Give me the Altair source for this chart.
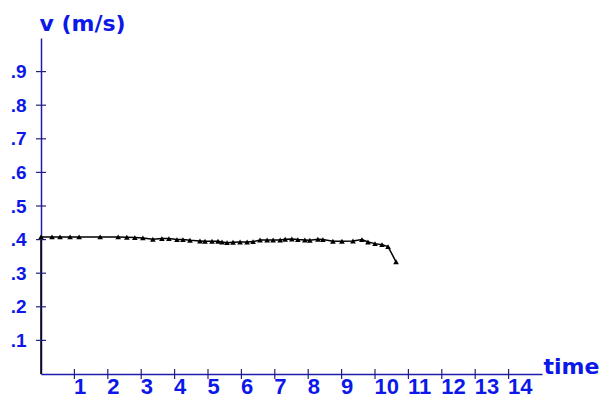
import altair as alt
import pandas as pd

t = [0.0, 0.33, 0.57, 0.87, 1.14, 1.77, 2.31, 2.57, 2.81, 3.05, 3.35, 3.62, 3.83, 4.07,
     4.25, 4.46, 4.76, 4.91, 5.12, 5.30, 5.42, 5.57, 5.75, 5.96, 6.17, 6.35, 6.56, 6.77,
     6.95, 7.16, 7.31, 7.51, 7.69, 7.90, 8.05, 8.29, 8.44, 8.74, 9.01, 9.34, 9.61, 9.79,
     10.0, 10.21, 10.39, 10.63]
v = [0.408, 0.408, 0.408, 0.408, 0.408, 0.408, 0.408, 0.407, 0.406, 0.405, 0.401, 0.403,
     0.403, 0.400, 0.400, 0.398, 0.396, 0.395, 0.395, 0.395, 0.393, 0.391, 0.392, 0.393,
     0.393, 0.394, 0.399, 0.399, 0.399, 0.399, 0.401, 0.402, 0.400, 0.399, 0.398, 0.401,
     0.400, 0.395, 0.395, 0.396, 0.400, 0.393, 0.388, 0.385, 0.379, 0.334]
x_ticks = list(range(1, 15))
y_ticks = [0.1, 0.2, 0.3, 0.4, 0.5, 0.6, 0.7, 0.8, 0.9]

BLUE = "#0c18e8"
AXIS = "#1c1cb0"
TICK = "#22227a"
FONT = "Liberation Sans"
TFONT = "DejaVu Sans"

W, H = 501, 336

df = pd.DataFrame({"t": t, "v": v})
xs = alt.Scale(domain=[0, 15], nice=False, zero=True)
ys = alt.Scale(domain=[0, 1.0], nice=False, zero=True)

axX = alt.Axis(
    values=x_ticks, title="time (s)", ticks=False, grid=False,
    domainColor=AXIS, domainWidth=1.5, labelColor=BLUE, labelFont=FONT,
    labelFontSize=22, labelFontWeight="bold", labelAlign="left", labelPadding=2,
    labelOffset=-1, labelFlush=False, labelOverlap=False, labelBound=False,
    titleColor=BLUE, titleFont=TFONT, titleFontSize=22, titleFontWeight="bold",
    titleX=W + 1, titleY=-1, titleAlign="left", titleBaseline="alphabetic",
    titleAnchor="start")
axY = alt.Axis(
    values=y_ticks, title="v (m/s)", ticks=False, grid=False,
    domainColor=AXIS, domainWidth=1.5, labelColor=BLUE, labelFont=FONT,
    labelFontSize=19, labelFontWeight="bold", labelPadding=15,
    labelExpr="replace(format(datum.value, '.1f'), '0.', '.')",
    labelFlush=False, labelOverlap=False, labelBound=False,
    titleColor=BLUE, titleFont=TFONT, titleFontSize=22, titleFontWeight="bold",
    titleAngle=0, titleX=-2, titleY=-8, titleAlign="left",
    titleBaseline="alphabetic")

base = alt.Chart(df)

line = base.mark_line(color="black", strokeWidth=1.5).encode(
    x=alt.X("t:Q", scale=xs, axis=axX), y=alt.Y("v:Q", scale=ys, axis=axY))

pts = base.mark_point(shape="triangle-up", filled=True, color="black", size=32, opacity=1).encode(
    x=alt.X("t:Q", scale=xs, axis=axX), y=alt.Y("v:Q", scale=ys, axis=axY))

lower = alt.Chart(pd.DataFrame({"a": [0.0], "b": [v[0]]})).mark_rule(color="black", strokeWidth=1.5).encode(
    x=alt.value(0), y=alt.Y("a:Q", scale=ys, axis=axY), y2="b:Q")

yt = alt.Chart(pd.DataFrame({"y": y_ticks})).mark_rule(color=TICK, strokeWidth=1.2).encode(
    y=alt.Y("y:Q", scale=ys, axis=axY), x=alt.value(-5), x2=alt.value(5))

xt = alt.Chart(pd.DataFrame({"x": x_ticks})).mark_rule(color=TICK, strokeWidth=1.2).encode(
    x=alt.X("x:Q", scale=xs, axis=axX), y=alt.value(H - 5), y2=alt.value(H + 5))

chart = alt.layer(line, lower, yt, xt, pts).properties(
    width=W, height=H, autosize=alt.AutoSizeParams(type="none"),
    padding={"left": 33, "top": 30, "right": 60, "bottom": 30},
).configure(background="white").configure_axis(labelOverlap=False).configure_view(strokeWidth=0)

chart.save("out.html", embed_options={"renderer": "svg", "actions": False})
